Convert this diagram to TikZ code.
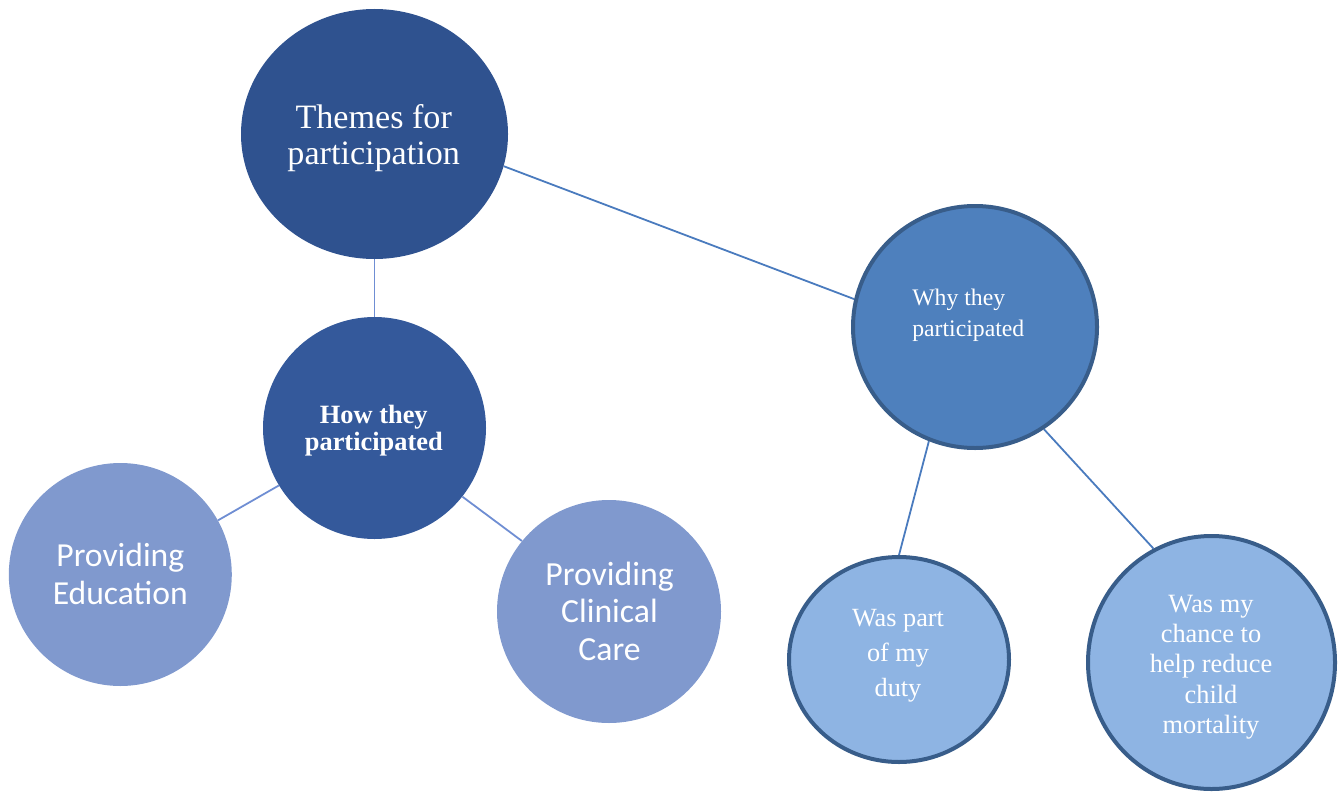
\documentclass[tikz,border=0pt]{standalone}
\usepackage{fontspec}
\setmainfont{Liberation Serif}
\newfontfamily\calib{Carlito}
\usetikzlibrary{shapes.geometric,backgrounds}
\definecolor{cThemes}{HTML}{2F528F}
\definecolor{cHow}{HTML}{34599B}
\definecolor{cWhy}{HTML}{4E80BD}
\definecolor{cRim}{HTML}{385D8A}
\definecolor{cLight}{HTML}{8EB4E3}
\definecolor{cProv}{HTML}{8099CE}
\definecolor{cLinkA}{HTML}{6F8ED3}
\definecolor{cLinkB}{HTML}{4A7BBE}
\begin{document}
\begin{tikzpicture}[x=0.75pt,y=-0.75pt,
  bub/.style={ellipse, inner sep=0pt},
  rim/.style={draw=cRim, line width=3pt},
  link/.style={line width=1.35pt},
  lbl/.style={text=white, align=center, inner sep=0pt}]
\useasboundingbox (0,0) rectangle (1344,792);

% bubbles
\node[bub, fill=cThemes, minimum width=200.25pt, minimum height=187.5pt] (themes) at (374.5,134) {};
\node[bub, fill=cHow, minimum width=167.25pt, minimum height=166.5pt] (how) at (374.5,428) {};
\node[bub, rim, fill=cWhy, minimum width=183pt, minimum height=181.5pt] (why) at (975,327) {};
\node[bub, fill=cProv, minimum width=167.25pt, minimum height=167.25pt] (edu) at (120.3,574.5) {};
\node[bub, fill=cProv, minimum width=168pt, minimum height=167.25pt] (clin) at (609,611.5) {};
\node[bub, rim, fill=cLight, minimum width=165pt, minimum height=153.75pt] (duty) at (899,659.5) {};
\node[bub, rim, fill=cLight, minimum width=185.25pt, minimum height=189.75pt] (chance) at (1211.5,662.5) {};

% labels
\node[lbl, font=\fontsize{25.6pt}{27pt}\selectfont] (tThemes) at (373.7,138.4) {Themes for\\participation};
\node[lbl, font=\fontsize{19.8pt}{20.25pt}\selectfont\bfseries] (tHow) at (373.8,430.3) {How they\\participated};
\node[lbl, align=left, anchor=west, font=\fontsize{17.8pt}{23.8pt}\selectfont] (tWhy) at (912,315.3) {Why they\\participated};
\node[lbl, font=\fontsize{19.7pt}{26.25pt}\selectfont] (tDuty) at (898,656) {Was part\\of my\\duty};
\node[lbl, font=\fontsize{19.8pt}{22.7pt}\selectfont] (tChance) at (1211,667) {Was my\\chance to\\help reduce\\child\\mortality};
\node[lbl, font=\calib\fontsize{25.2pt}{28.3pt}\selectfont] (tEdu) at (120.3,574) {Providing\\Education};
\node[lbl, font=\calib\fontsize{25.3pt}{28.1pt}\selectfont] (tClin) at (609.5,611) {Providing\\Clinical\\Care};

% connectors
\begin{scope}[on background layer]
\draw[link, draw=cLinkA] (themes.270) -- (how.90);
\draw[link, draw=cLinkB] (themes.346) -- (why.167);
\draw[link, draw=cLinkA] (how.211) -- (edu.29);
\draw[link, draw=cLinkA] (how.322.5) -- (clin.141.5);
\draw[link, draw=cLinkB] (why.248) -- (duty.90.5);
\draw[link, draw=cLinkB] (why.304.7) -- (chance.117.3);
\end{scope}
\end{tikzpicture}
\end{document}
